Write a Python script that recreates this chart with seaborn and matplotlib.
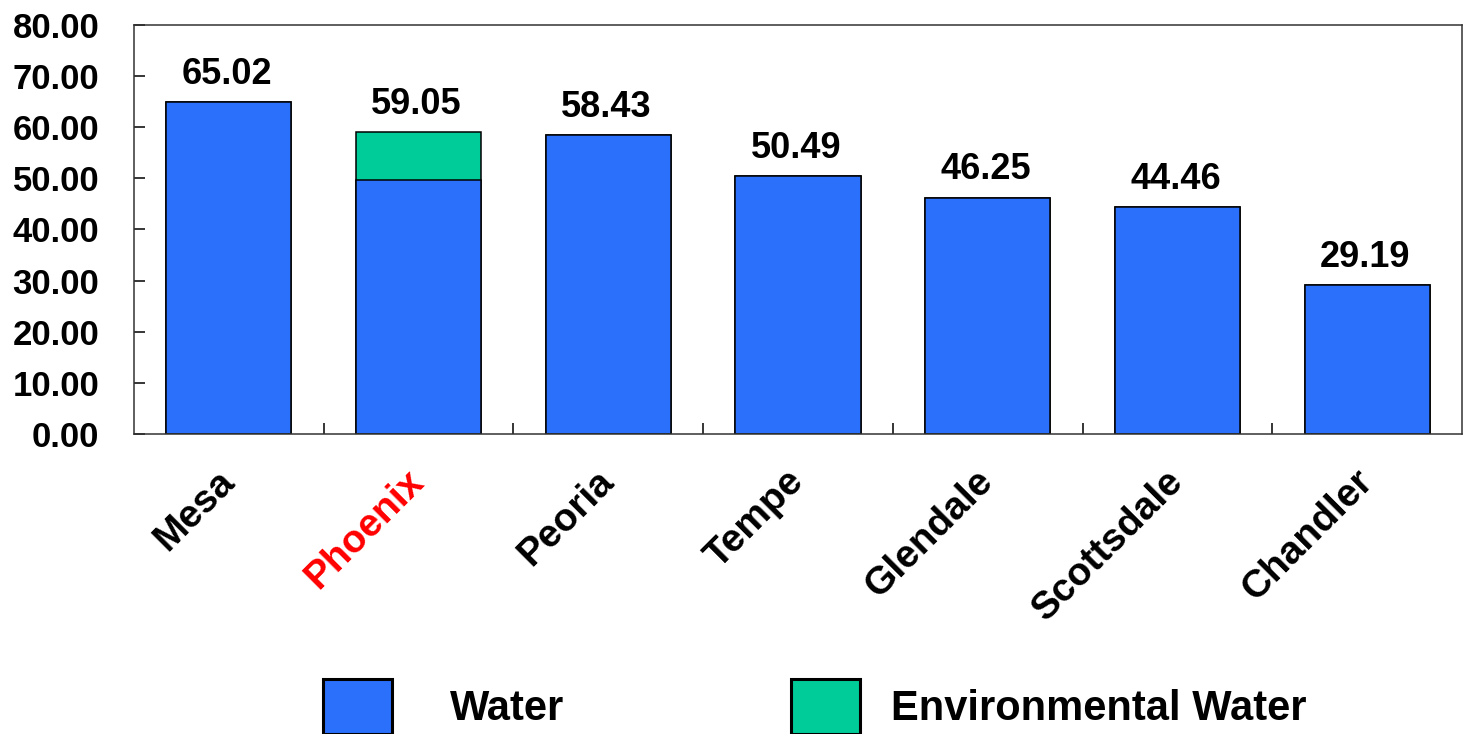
import matplotlib
matplotlib.use("Agg")
import matplotlib.pyplot as plt
from matplotlib.ticker import FixedLocator, FormatStrFormatter
import numpy as np
import pandas as pd
import seaborn as sns

# values
cities = ["Mesa", "Phoenix", "Peoria", "Tempe", "Glendale", "Scottsdale", "Chandler"]
water = [65.02, 49.60, 58.43, 50.49, 46.25, 44.46, 29.19]
env_water = [0.0, 9.45, 0.0, 0.0, 0.0, 0.0, 0.0]
highlight = "Phoenix"

blue = "#2B70FA"
green = "#00CC99"

df = pd.DataFrame({"city": cities, "water": water, "env": env_water})
df["total"] = df["water"] + df["env"]

sns.set_style("ticks")
plt.rcParams["font.family"] = ["Liberation Sans", "DejaVu Sans"]
plt.rcParams["font.weight"] = "bold"
plt.rcParams["text.color"] = "black"
plt.rcParams["xtick.color"] = "black"
plt.rcParams["ytick.color"] = "black"

fig = plt.figure(figsize=(14.69, 7.34), dpi=100)
ax = fig.add_axes([134 / 1469, 1 - 434 / 734, (1462 - 134) / 1469, (434 - 25) / 734])

# stacked look: total (green) underneath, water (blue) on top
sns.barplot(data=df, x="city", y="total", color=green, width=0.66, saturation=1,
            edgecolor="black", linewidth=1.1, label="Environmental Water", ax=ax)
sns.barplot(data=df, x="city", y="water", color=blue, width=0.66, saturation=1,
            edgecolor="black", linewidth=1.1, label="Water", ax=ax)

for i, t in enumerate(df["total"]):
    ax.annotate(f"{t:.2f}", xy=(i, t), xytext=(-1.5, 13), textcoords="offset points",
                ha="center", va="baseline", fontsize=26, fontweight="bold")

ax.set_ylim(0, 80)
ax.set_xlim(-0.5, len(cities) - 0.5)
ax.yaxis.set_major_locator(FixedLocator(np.arange(0, 81, 10)))
ax.yaxis.set_major_formatter(FormatStrFormatter("%.2f"))
ax.tick_params(axis="y", direction="in", length=8, width=1.1, pad=25, labelsize=25)
ax.tick_params(axis="x", which="major", length=0, pad=30, labelsize=28)
ax.xaxis.set_minor_locator(FixedLocator(np.arange(0.5, len(cities) - 1, 1)))
ax.tick_params(axis="x", which="minor", direction="in", length=8, width=1.1)

for lab in ax.get_xticklabels():
    lab.set_rotation(45)
    lab.set_ha("right")
    lab.set_va("center")
    lab.set_rotation_mode("anchor")
    lab.set_fontweight("bold")
    if lab.get_text() == highlight:
        lab.set_color("red")
for lab in ax.get_yticklabels():
    lab.set_fontweight("bold")

ax.set_xlabel("")
ax.set_ylabel("")
for s in ax.spines.values():
    s.set_visible(True)
    s.set_linewidth(1.1)
    s.set_color("#333333")

if ax.legend_ is not None:
    ax.legend_.remove()
handles, labels = ax.get_legend_handles_labels()
spots = {"Water": (323, 1.4), "Environmental Water": (791, 0.75)}
for h, l in zip(handles, labels):
    x0, pad = spots[l]
    leg = fig.legend([h], [l], loc="upper left", bbox_to_anchor=(x0 / 1469, 1 - 679 / 734),
                     frameon=False, fontsize=30, borderpad=0, borderaxespad=0,
                     handlelength=1.65, handleheight=1.65, handletextpad=pad)
    for p in leg.get_patches():
        p.set_linewidth(2.2)

fig.savefig("out.png", dpi=100)
